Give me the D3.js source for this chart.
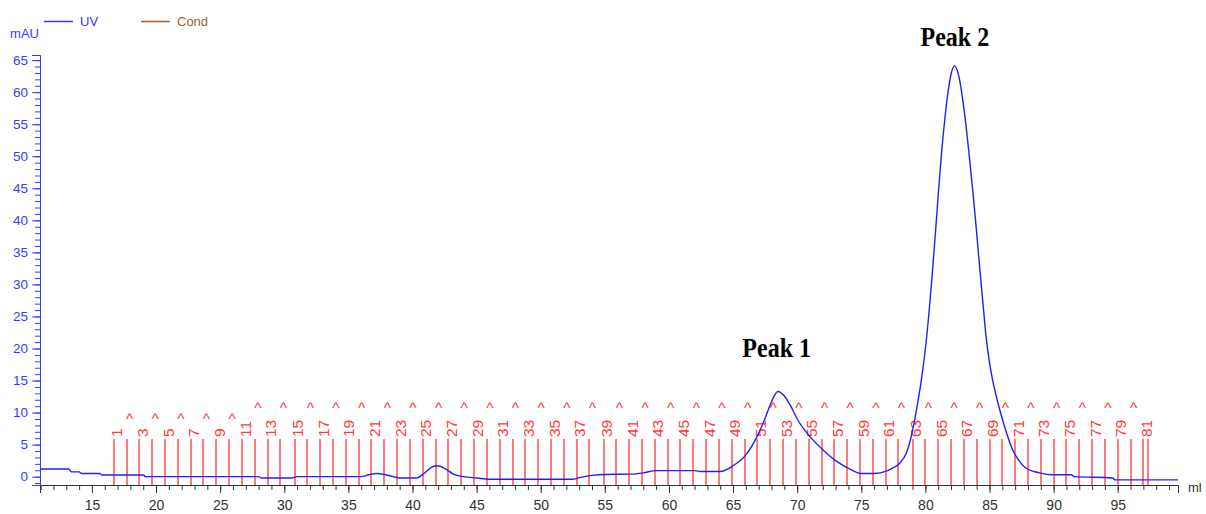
<!DOCTYPE html>
<html>
<head>
<meta charset="utf-8">
<script src="https://cdn.jsdelivr.net/npm/d3@7"></script>
<style>
  body { margin: 0; background: #fff; }
  text { font-family: Arial, "Liberation Sans", sans-serif; }
</style>
</head>
<body>
<div id="chart"></div>
<script>
// UV trace (ml, mAU)
var uvMl = [10.95, 13.2, 13.4, 14.0, 14.2, 15.6, 15.8, 19.0, 19.2, 28.0, 28.2, 30.6, 31.0,
    36.0, 36.6, 37.2, 37.9, 38.5, 39.0, 40.3, 40.9, 41.5, 42.0, 42.5, 43.2, 44.0, 45.0, 46.0,
    52.5, 53.0, 54.0, 55.0, 57.0, 58.0, 59.0, 62.0, 62.5, 64.0, 65.0, 66.0, 67.0, 67.5, 68.0,
    68.5, 69.0, 69.5, 70.0, 71.0, 72.0, 73.0, 74.0, 75.0, 76.0, 77.0, 77.5, 78.0, 78.5, 79.0,
    79.4, 79.7, 80.0, 80.3, 80.55, 80.8, 81.0, 81.25, 81.5, 81.75, 82.0, 82.26, 82.5, 82.75,
    83.0, 83.25, 83.5, 83.75, 84.0, 84.25, 84.5, 84.75, 85.0, 85.25, 85.5, 85.75, 86.0, 86.3,
    86.8, 87.3, 87.8, 88.9, 89.9, 91.4, 91.6, 94.6, 94.8, 99.7];
var uvMau = [1.2, 1.2, 0.75, 0.75, 0.5, 0.5, 0.25, 0.25, 0.0, 0.0, -0.2, -0.2, 0.0,
    0.0, 0.3, 0.5, 0.3, 0.0, -0.2, -0.2, 0.5, 1.5, 1.7, 1.3, 0.4, 0.0, -0.2, -0.4,
    -0.4, -0.15, 0.2, 0.35, 0.4, 0.6, 0.95, 0.95, 0.8, 0.8, 1.7, 3.4, 6.8, 9.1, 11.7,
    13.3, 12.6, 11.0, 9.0, 6.25, 4.2, 2.5, 1.3, 0.5, 0.5, 0.9, 1.4, 2.1, 3.6, 7.2,
    11.5, 15.3, 20.0, 26.0, 32.0, 38.5, 44.0, 50.3, 55.5, 59.8, 62.8, 64.1, 63.3, 61.0,
    57.5, 53.3, 48.5, 43.5, 38.0, 32.3, 26.8, 21.5, 17.8, 15.0, 12.8, 10.8, 9.0, 7.0,
    4.2, 2.5, 1.4, 0.6, 0.3, 0.3, 0.0, -0.2, -0.5, -0.5];

// fraction marks (start of each fraction, ml), last value is the end of fraction 81
var fractionStart = [16.7, 17.7, 18.7, 19.7, 20.7, 21.7, 22.7, 23.7, 24.7, 25.7, 26.7, 27.7,
    28.7, 29.7, 30.8, 31.8, 32.8, 33.8, 34.8, 35.8, 36.8, 37.8, 38.8, 39.8, 40.8, 41.8, 42.8,
    43.8, 44.8, 45.8, 46.8, 47.8, 48.8, 49.8, 50.8, 51.8, 52.8, 53.8, 54.9, 55.9, 56.9, 57.9,
    58.9, 59.9, 60.9, 61.9, 62.9, 63.9, 64.9, 65.9, 66.9, 67.9, 68.9, 69.9, 70.9, 71.9, 72.9,
    73.9, 74.9, 75.9, 76.9, 77.9, 79.0, 80.0, 81.0, 82.0, 83.0, 84.0, 85.0, 86.0, 87.0, 88.0,
    89.0, 90.0, 91.0, 92.0, 93.0, 94.0, 95.0, 96.0, 97.0];
var fractionEnd = 97.35;

var xTicks = [15, 20, 25, 30, 35, 40, 45, 50, 55, 60, 65, 70, 75, 80, 85, 90, 95];
var yTicks = [0, 5, 10, 15, 20, 25, 30, 35, 40, 45, 50, 55, 60, 65];

var peakNames = ["Peak 1", "Peak 2"];
var peakMl = [68.4, 82.3];
var peakLabelMau = [18.6, 67.2];

var legendNames = ["UV", "Cond"];
var legendColors = ["#3535ff", "#a0602a"];

var width = 1206, height = 514;
var uvColor = "#2020ff", fracColor = "#ff3a3a", axisBlue = "#3a3aff", axisDark = "#333";

var svg = d3.select("#chart")
    .append("svg")
        .attr("width", width)
        .attr("height", height);

var x = d3.scaleLinear()
    .domain([10.95, 99.7])
    .range([40, 1178]);

var y = d3.scaleLinear()
    .domain([-1.3, 65.8])
    .range([485, 55]);

// fraction lines (soft, about two pixels wide like the original)
svg.append("g")
    .selectAll("line")
    .data(fractionStart.concat([fractionEnd]))
    .enter()
    .append("line")
        .attr("x1", function(d) { return Math.round(x(d)); })
        .attr("x2", function(d) { return Math.round(x(d)); })
        .attr("y1", y.range()[0])
        .attr("y2", 439)
        .style("stroke", fracColor)
        .attr("stroke-width", 1.5)
        .attr("stroke-opacity", 0.9);

// fraction labels: odd numbers rotated, even ones drawn as ^
var frac = svg.append("g")
    .selectAll("text")
    .data(fractionStart)
    .enter()
    .append("text")
        .attr("fill", fracColor)
        .style("font-size", "15.5px");

frac.filter(function(d, i) { return (i + 1) % 2 == 1; })
    .attr("transform", function(d) { return "translate(" + (x(d) + 3) + ",437) rotate(-90)"; })
    .attr("dy", "0.36em")
    .text(function(d) { return fractionStart.indexOf(d) + 1; });

frac.filter(function(d, i) { return (i + 1) % 2 == 0; })
    .attr("x", function(d) { return x(d) + 3; })
    .attr("y", function(d) { return fractionStart.indexOf(d) + 1 < 12 ? 424 : 413; })
    .attr("text-anchor", "middle")
    .text("^");

// UV trace
svg.append("path")
    .datum(d3.zip(uvMl, uvMau))
    .attr("fill", "none")
    .attr("stroke", uvColor)
    .attr("stroke-width", 1.4)
    .attr("d", d3.line()
        .curve(d3.curveMonotoneX)
        .x(function(d) { return x(d[0]); })
        .y(function(d) { return y(d[1]); }));

// x axis: minor ticks every ml, then labelled ticks
var xMinor = svg.append("g")
    .attr("transform", "translate(0," + y.range()[0] + ")")
    .call(d3.axisBottom(x).tickValues(d3.range(11, 100)).tickSize(5).tickFormat(""));
var xAxis = svg.append("g")
    .attr("transform", "translate(0," + y.range()[0] + ")")
    .call(d3.axisBottom(x).tickValues(xTicks).tickSize(8).tickPadding(7).tickFormat(d3.format("d")));
xMinor.selectAll("path, line").attr("stroke", axisDark);
xAxis.selectAll("path, line").attr("stroke", axisDark);
xAxis.selectAll("text").attr("fill", axisDark).style("font-size", "14px");

svg.append("text")
    .attr("x", 1188)
    .attr("y", 492)
    .attr("fill", axisDark)
    .style("font-size", "13px")
    .text("ml");

// y axis: minor ticks every mAU, then labelled ticks
var yMinor = svg.append("g")
    .attr("transform", "translate(" + x.range()[0] + ",0)")
    .call(d3.axisLeft(y).tickValues(d3.range(-1, 66)).tickSize(5).tickFormat(""));
var yAxis = svg.append("g")
    .attr("transform", "translate(" + x.range()[0] + ",0)")
    .call(d3.axisLeft(y).tickValues(yTicks).tickSize(8).tickPadding(4));
yMinor.selectAll("path, line").attr("stroke", axisBlue);
yAxis.selectAll("path, line").attr("stroke", axisBlue);
yAxis.selectAll("text").attr("fill", axisBlue).style("font-size", "13.5px");

svg.append("text")
    .attr("x", 39)
    .attr("y", 38)
    .attr("text-anchor", "end")
    .attr("fill", axisBlue)
    .style("font-size", "13px")
    .text("mAU");

// legend
var legend = svg.append("g")
    .selectAll("g")
    .data(legendNames)
    .enter()
    .append("g")
        .attr("transform", function(d, i) { return "translate(" + (44 + i * 97) + ",21.5)"; });
legend.append("line")
    .attr("x2", 29)
    .attr("stroke", function(d, i) { return legendColors[i]; })
    .attr("stroke-width", 1.5);
legend.append("text")
    .attr("x", 36)
    .attr("dy", "0.35em")
    .attr("fill", function(d, i) { return legendColors[i]; })
    .style("font-size", "13px")
    .text(function(d) { return d; });

// peak labels
svg.append("g")
    .selectAll("text")
    .data(peakNames)
    .enter()
    .append("text")
        .attr("transform", function(d, i) {
            return "translate(" + x(peakMl[i]) + "," + y(peakLabelMau[i]) + ") scale(1,1.12)";
        })
        .attr("text-anchor", "middle")
        .style("font-family", "'Liberation Serif', 'Times New Roman', serif")
        .style("font-weight", "bold")
        .style("font-size", "24px")
        .text(function(d) { return d; });
</script>
</body>
</html>
